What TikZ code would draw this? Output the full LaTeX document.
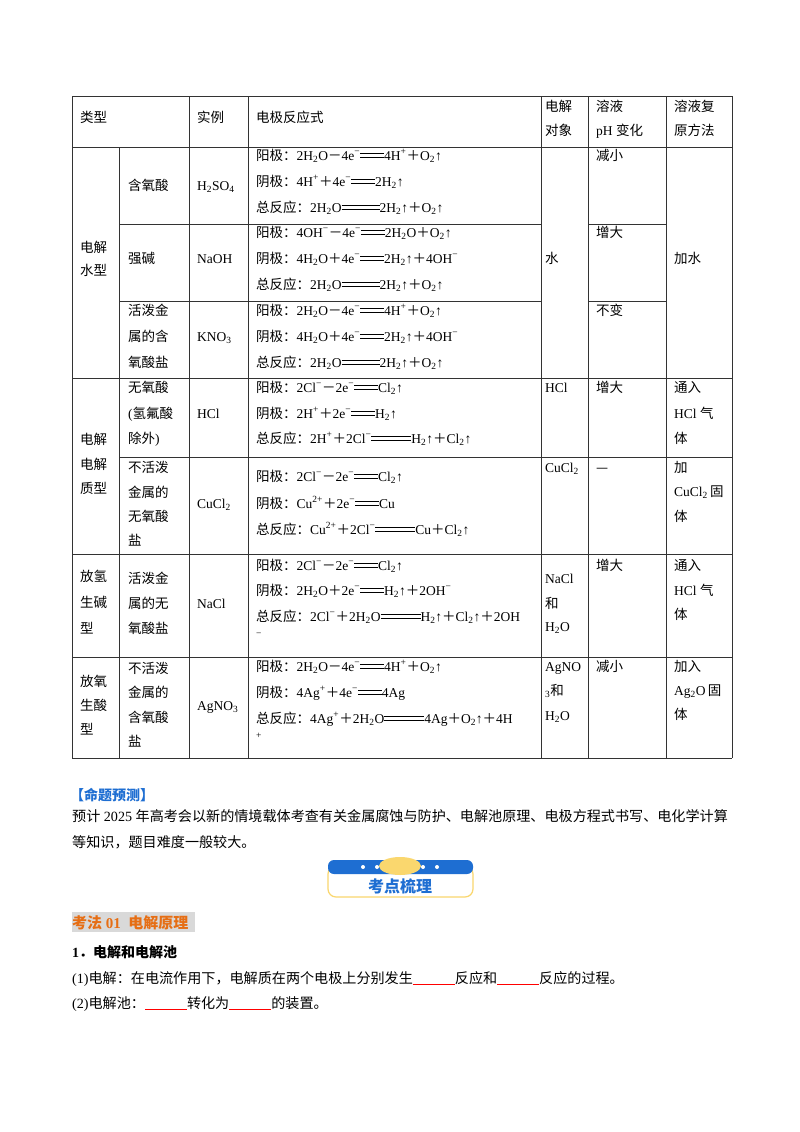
\documentclass[tikz,border=0pt]{standalone}
\usepackage{fontspec}
\setmainfont{Liberation Serif}
\newfontfamily\cjk{Noto Sans CJK SC}
\newcommand\C[1]{{\cjk #1}}
\newcommand\Sb[1]{\textsubscript{#1}}
\newcommand\Sp[1]{\textsuperscript{#1}}
\newcommand\PL{{\cjk ＋}}
\newcommand\MI{{\cjk －}}
\newcommand\Eq[1]{\rule[0.22em]{#1}{0.5pt}\kern-#1\rule[0.45em]{#1}{0.5pt}}
\definecolor{bblue}{RGB}{30,110,210}
\definecolor{borange}{RGB}{230,110,20}
\definecolor{byellow}{RGB}{250,215,110}
\begin{document}
\begin{tikzpicture}[x=1pt,y=-1pt,
  tx/.style={anchor=base west,inner sep=0pt,font=\fontsize{13.5}{16}\selectfont},
  ln/.style={draw=black!80,line width=0.8pt}]
\useasboundingbox (0,0) rectangle (800,1132);
\fill[white] (0,0) rectangle (800,1132);
% table lines
\foreach \y in {96,147,378,554,657,758} \draw[ln] (72,\y) -- (732,\y);
\draw[ln] (119,224) -- (541,224); \draw[ln] (119,301) -- (541,301);
\draw[ln] (588,224) -- (666,224); \draw[ln] (588,301) -- (666,301);
\draw[ln] (119,457) -- (732,457);
\foreach \x in {72,189,248,541,588,666,732} \draw[ln] (\x,96) -- (\x,758);
\draw[ln] (119,147) -- (119,758);
% header
\node[tx] at (80,122) {\C{类型}};
\node[tx] at (197,122) {\C{实例}};
\node[tx] at (256,122) {\C{电极反应式}};
\node[tx] at (545,111) {\C{电解}};
\node[tx] at (545,135) {\C{对象}};
\node[tx] at (596,111) {\C{溶液}};
\node[tx] at (596,135) {pH \C{变化}};
\node[tx] at (674,111) {\C{溶液复}};
\node[tx] at (674,135) {\C{原方法}};
% group 1
\node[tx] at (80,252) {\C{电解}};
\node[tx] at (80,275) {\C{水型}};
\node[tx] at (128,190) {\C{含氧酸}};
\node[tx] at (197,190) {H\Sb{2}SO\Sb{4}};
\node[tx] at (256,160) {\C{阳极：}2H\Sb{2}O\MI4e\Sp{−}\Eq{24pt}4H\Sp{+}\PL O\Sb{2}↑};
\node[tx] at (256,186) {\C{阴极：}4H\Sp{+}\PL4e\Sp{−}\Eq{24pt}2H\Sb{2}↑};
\node[tx] at (256,212) {\C{总反应：}2H\Sb{2}O\Eq{38pt}2H\Sb{2}↑\PL O\Sb{2}↑};
\node[tx] at (596,160) {\C{减小}};
\node[tx] at (128,263) {\C{强碱}};
\node[tx] at (197,263) {NaOH};
\node[tx] at (256,237) {\C{阳极：}4OH\Sp{−}\MI4e\Sp{−}\Eq{24pt}2H\Sb{2}O\PL O\Sb{2}↑};
\node[tx] at (256,263) {\C{阴极：}4H\Sb{2}O\PL4e\Sp{−}\Eq{24pt}2H\Sb{2}↑\PL4OH\Sp{−}};
\node[tx] at (256,289) {\C{总反应：}2H\Sb{2}O\Eq{38pt}2H\Sb{2}↑\PL O\Sb{2}↑};
\node[tx] at (596,237) {\C{增大}};
\node[tx] at (545,263) {\C{水}};
\node[tx] at (674,263) {\C{加水}};
\node[tx] at (128,315) {\C{活泼金}};
\node[tx] at (128,341) {\C{属的含}};
\node[tx] at (128,367) {\C{氧酸盐}};
\node[tx] at (197,341) {KNO\Sb{3}};
\node[tx] at (256,315) {\C{阳极：}2H\Sb{2}O\MI4e\Sp{−}\Eq{24pt}4H\Sp{+}\PL O\Sb{2}↑};
\node[tx] at (256,341) {\C{阴极：}4H\Sb{2}O\PL4e\Sp{−}\Eq{24pt}2H\Sb{2}↑\PL4OH\Sp{−}};
\node[tx] at (256,367) {\C{总反应：}2H\Sb{2}O\Eq{38pt}2H\Sb{2}↑\PL O\Sb{2}↑};
\node[tx] at (596,315) {\C{不变}};
% group 2
\node[tx] at (80,444) {\C{电解}};
\node[tx] at (80,469) {\C{电解}};
\node[tx] at (80,493) {\C{质型}};
\node[tx] at (128,392) {\C{无氧酸}};
\node[tx] at (128,418) {(\C{氢氟酸}};
\node[tx] at (128,443) {\C{除外})};
\node[tx] at (197,418) {HCl};
\node[tx] at (256,392) {\C{阳极：}2Cl\Sp{−}\MI2e\Sp{−}\Eq{24pt}Cl\Sb{2}↑};
\node[tx] at (256,418) {\C{阴极：}2H\Sp{+}\PL2e\Sp{−}\Eq{24pt}H\Sb{2}↑};
\node[tx] at (256,443) {\C{总反应：}2H\Sp{+}\PL2Cl\Sp{−}\Eq{40pt}H\Sb{2}↑\PL Cl\Sb{2}↑};
\node[tx] at (545,392) {HCl};
\node[tx] at (596,392) {\C{增大}};
\node[tx] at (674,392) {\C{通入}};
\node[tx] at (674,418) {HCl \C{气}};
\node[tx] at (674,443) {\C{体}};
\node[tx] at (128,472) {\C{不活泼}};
\node[tx] at (128,497) {\C{金属的}};
\node[tx] at (128,521) {\C{无氧酸}};
\node[tx] at (128,545) {\C{盐}};
\node[tx] at (197,508) {CuCl\Sb{2}};
\node[tx] at (256,481) {\C{阳极：}2Cl\Sp{−}\MI2e\Sp{−}\Eq{24pt}Cl\Sb{2}↑};
\node[tx] at (256,508) {\C{阴极：}Cu\Sp{2+}\PL2e\Sp{−}\Eq{24pt}Cu};
\node[tx] at (256,534) {\C{总反应：}Cu\Sp{2+}\PL2Cl\Sp{−}\Eq{40pt}Cu\PL Cl\Sb{2}↑};
\node[tx] at (545,472) {CuCl\Sb{2}};
\node[tx] at (596,472) {\C{—}};
\node[tx] at (674,472) {\C{加}};
\node[tx] at (674,496) {CuCl\Sb{2}\,\C{固}};
\node[tx] at (674,521) {\C{体}};
% group 3
\node[tx] at (80,581) {\C{放氢}};
\node[tx] at (80,607) {\C{生碱}};
\node[tx] at (80,633) {\C{型}};
\node[tx] at (128,583) {\C{活泼金}};
\node[tx] at (128,608) {\C{属的无}};
\node[tx] at (128,633) {\C{氧酸盐}};
\node[tx] at (197,608) {NaCl};
\node[tx] at (256,570) {\C{阳极：}2Cl\Sp{−}\MI2e\Sp{−}\Eq{24pt}Cl\Sb{2}↑};
\node[tx] at (256,595) {\C{阴极：}2H\Sb{2}O\PL2e\Sp{−}\Eq{24pt}H\Sb{2}↑\PL2OH\Sp{−}};
\node[tx] at (256,621) {\C{总反应：}2Cl\Sp{−}\PL2H\Sb{2}O\Eq{40pt}H\Sb{2}↑\PL Cl\Sb{2}↑\PL2OH};
\node[tx] at (256,642) {\Sp{−}};
\node[tx] at (545,583) {NaCl};
\node[tx] at (545,608) {\C{和}};
\node[tx] at (545,631) {H\Sb{2}O};
\node[tx] at (596,570) {\C{增大}};
\node[tx] at (674,570) {\C{通入}};
\node[tx] at (674,595) {HCl \C{气}};
\node[tx] at (674,619) {\C{体}};
% group 4
\node[tx] at (80,686) {\C{放氧}};
\node[tx] at (80,710) {\C{生酸}};
\node[tx] at (80,734) {\C{型}};
\node[tx] at (128,673) {\C{不活泼}};
\node[tx] at (128,697) {\C{金属的}};
\node[tx] at (128,722) {\C{含氧酸}};
\node[tx] at (128,746) {\C{盐}};
\node[tx] at (197,710) {AgNO\Sb{3}};
\node[tx] at (256,671) {\C{阳极：}2H\Sb{2}O\MI4e\Sp{−}\Eq{24pt}4H\Sp{+}\PL O\Sb{2}↑};
\node[tx] at (256,697) {\C{阴极：}4Ag\Sp{+}\PL4e\Sp{−}\Eq{24pt}4Ag};
\node[tx] at (256,723) {\C{总反应：}4Ag\Sp{+}\PL2H\Sb{2}O\Eq{40pt}4Ag\PL O\Sb{2}↑\PL4H};
\node[tx] at (256,744) {\Sp{+}};
\node[tx] at (545,671) {AgNO};
\node[tx] at (545,695) {\Sb{3}\C{和}};
\node[tx] at (545,720) {H\Sb{2}O};
\node[tx] at (596,671) {\C{减小}};
\node[tx] at (674,671) {\C{加入}};
\node[tx] at (674,695) {Ag\Sb{2}O\,\C{固}};
\node[tx] at (674,719) {\C{体}};
% text below
\begin{scope}[tx/.append style={font=\fontsize{14.1}{17}\selectfont}]
\node[tx,text=bblue,font=\fontsize{14}{17}\selectfont\cjk\bfseries] at (70,800) {【命题预测】};
\node[tx] at (72,821) {\C{预计} 2025 \C{年高考会以新的情境载体考查有关金属腐蚀与防护、电解池原理、电极方程式书写、电化学计算}};
\node[tx] at (72,847) {\C{等知识，题目难度一般较大。}};
\node[tx] at (72,983) {(1)\C{电解：在电流作用下，电解质在两个电极上分别发生}\textcolor{red}{\rule[-2pt]{42pt}{0.8pt}}\C{反应和}\textcolor{red}{\rule[-2pt]{42pt}{0.8pt}}\C{反应的过程。}};
\node[tx] at (72,1008) {(2)\C{电解池：}\textcolor{red}{\rule[-2pt]{42pt}{0.8pt}}\C{转化为}\textcolor{red}{\rule[-2pt]{42pt}{0.8pt}}\C{的装置。}};
\end{scope}
% banner
\draw[byellow,line width=1.2pt,fill=white,rounded corners=8pt] (328,866) rectangle (473,897);
\fill[bblue,rounded corners=6pt] (328,860) rectangle (473,874);
\fill[byellow] (400,866) ellipse (21pt and 9pt);
\foreach \x in {363,377,423,437} \fill[white] (\x,867) circle (2pt);
\node[inner sep=0pt,text=bblue,font=\fontsize{16}{18}\selectfont\cjk\bfseries] (bn) at (400,886) {考点梳理};
% section
\fill[black!15] (72,912) rectangle (195,932);
\node[tx,text=borange,font=\fontsize{15}{18}\selectfont\bfseries] at (72,928) {\C{考法} 01\ \ \C{电解原理}};
\node[tx,font=\fontsize{14}{17}\selectfont\bfseries] at (72,957) {1\C{．电解和电解池}};
\end{tikzpicture}
\end{document}
